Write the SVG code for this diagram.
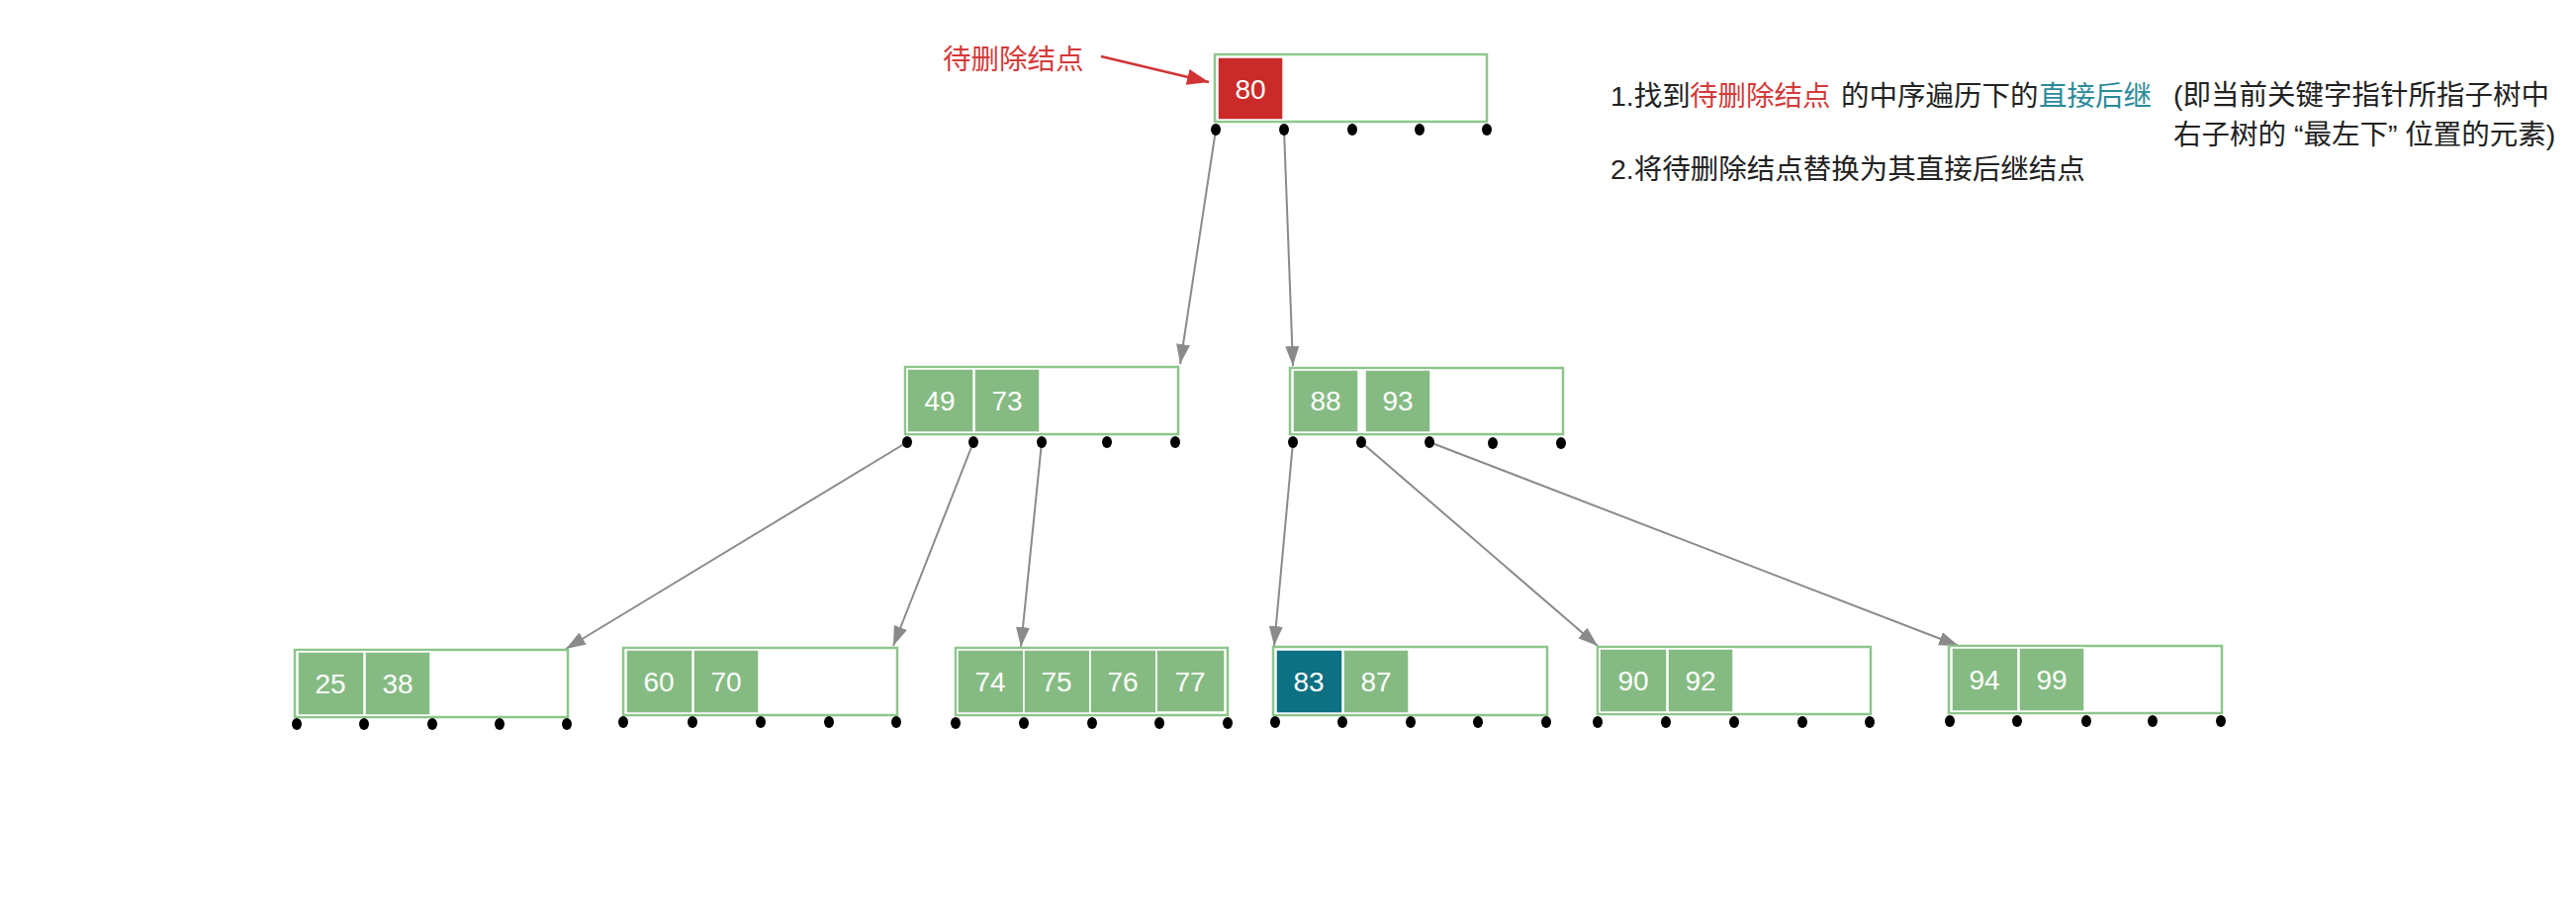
<svg xmlns="http://www.w3.org/2000/svg" width="2604" height="920" viewBox="0 0 2604 920">
<defs>
<style>
.box{fill:#fff;stroke:#8dc68a;stroke-width:2.5}
.c{fill:#85bb82;stroke:#fff;stroke-width:1.5}
.red{fill:#cb2a2a}
.teal{fill:#0e7083}
.num{font-family:"Liberation Sans",Arial,sans-serif;font-size:28px;fill:#fff;text-anchor:middle}
.dot{fill:#000}
.edge{stroke:#8a8a8a;stroke-width:2;fill:none;marker-end:url(#ah)}
.txt{font-family:"Liberation Sans","Noto Sans CJK SC",sans-serif;font-size:28.5px;fill:#222}
</style>
<marker id="ah" viewBox="0 0 20 14" refX="20" refY="7" markerWidth="20" markerHeight="14" markerUnits="userSpaceOnUse" orient="auto"><path d="M0,0 L20,7 L0,14 z" fill="#8a8a8a"/></marker>
<marker id="ahr" viewBox="0 0 22 16" refX="22" refY="8" markerWidth="22" markerHeight="16" markerUnits="userSpaceOnUse" orient="auto"><path d="M0,0 L22,8 L0,16 z" fill="#d03434"/></marker>
</defs>
<rect width="2604" height="920" fill="#fff"/>

<g id="connectors">
<line class="edge" x1="1229" y1="131" x2="1193" y2="368"/>
<line class="edge" x1="1298" y1="131" x2="1307" y2="370"/>
<line class="edge" x1="917" y1="447" x2="572" y2="656"/>
<line class="edge" x1="984" y1="447" x2="903" y2="653"/>
<line class="edge" x1="1053" y1="447" x2="1032" y2="654"/>
<line class="edge" x1="1307" y1="447" x2="1288" y2="653"/>
<line class="edge" x1="1376" y1="447" x2="1615" y2="653"/>
<line class="edge" x1="1445" y1="447" x2="1980" y2="653"/>
<line x1="1113" y1="57" x2="1222" y2="83" stroke="#d03434" stroke-width="2.5" marker-end="url(#ahr)"/>
</g>

<g id="label-delete">
<text x="953" y="70" font-family="'Liberation Sans','Noto Sans CJK SC',sans-serif" font-size="28.5" fill="#d43a3a">待删除结点</text>
</g>

<g id="node-root">
<rect class="box" x="1228" y="55" width="275" height="68"/>
<rect class="red" x="1231" y="58" width="66" height="63" stroke="#fff" stroke-width="1.5"/>
<text class="num" x="1264" y="100">80</text>
<ellipse class="dot" cx="1229" cy="131" rx="5" ry="6"/><ellipse class="dot" cx="1298" cy="131" rx="5" ry="6"/><ellipse class="dot" cx="1367" cy="131" rx="5" ry="6"/><ellipse class="dot" cx="1435" cy="131" rx="5" ry="6"/><ellipse class="dot" cx="1503" cy="131" rx="5" ry="6"/>
</g>

<g id="node-49-73">
<rect class="box" x="915" y="371" width="276" height="68"/>
<rect class="c" x="917" y="373" width="67" height="64"/><text class="num" x="950" y="415">49</text>
<rect class="c" x="985" y="373" width="66" height="64"/><text class="num" x="1018" y="415">73</text>
<ellipse class="dot" cx="917" cy="447" rx="5" ry="6"/><ellipse class="dot" cx="984" cy="447" rx="5" ry="6"/><ellipse class="dot" cx="1053" cy="447" rx="5" ry="6"/><ellipse class="dot" cx="1119" cy="447" rx="5" ry="6"/><ellipse class="dot" cx="1188" cy="447" rx="5" ry="6"/>
</g>

<g id="node-88-93">
<rect class="box" x="1304" y="372" width="276" height="67"/>
<rect class="c" x="1307" y="374" width="66" height="63"/><text class="num" x="1340" y="415">88</text>
<rect class="c" x="1380" y="374" width="66" height="63"/><text class="num" x="1413" y="415">93</text>
<ellipse class="dot" cx="1307" cy="447" rx="5" ry="6"/><ellipse class="dot" cx="1376" cy="447" rx="5" ry="6"/><ellipse class="dot" cx="1445" cy="447" rx="5" ry="6"/><ellipse class="dot" cx="1509" cy="448" rx="5" ry="6"/><ellipse class="dot" cx="1578" cy="448" rx="5" ry="6"/>
</g>

<g id="node-25-38">
<rect class="box" x="298" y="657" width="276" height="68"/>
<rect class="c" x="301" y="659" width="67" height="64"/><text class="num" x="334" y="701">25</text>
<rect class="c" x="369" y="659" width="66" height="64"/><text class="num" x="402" y="701">38</text>
<ellipse class="dot" cx="300" cy="732" rx="5" ry="6"/><ellipse class="dot" cx="368" cy="732" rx="5" ry="6"/><ellipse class="dot" cx="437" cy="732" rx="5" ry="6"/><ellipse class="dot" cx="505" cy="732" rx="5" ry="6"/><ellipse class="dot" cx="573" cy="732" rx="5" ry="6"/>
</g>

<g id="node-60-70">
<rect class="box" x="630" y="655" width="277" height="68"/>
<rect class="c" x="633" y="657" width="67" height="64"/><text class="num" x="666" y="699">60</text>
<rect class="c" x="701" y="657" width="66" height="64"/><text class="num" x="734" y="699">70</text>
<ellipse class="dot" cx="630" cy="730" rx="5" ry="6"/><ellipse class="dot" cx="700" cy="730" rx="5" ry="6"/><ellipse class="dot" cx="769" cy="730" rx="5" ry="6"/><ellipse class="dot" cx="838" cy="730" rx="5" ry="6"/><ellipse class="dot" cx="906" cy="730" rx="5" ry="6"/>
</g>

<g id="node-74-77">
<rect class="box" x="966" y="655" width="275" height="68"/>
<rect class="c" x="968" y="657" width="67" height="64"/><text class="num" x="1001" y="699">74</text>
<rect class="c" x="1035" y="657" width="67" height="64"/><text class="num" x="1068" y="699">75</text>
<rect class="c" x="1102" y="657" width="67" height="64"/><text class="num" x="1135" y="699">76</text>
<rect class="c" x="1169" y="657" width="69" height="63"/><text class="num" x="1203" y="699">77</text>
<ellipse class="dot" cx="966" cy="731" rx="5" ry="6"/><ellipse class="dot" cx="1035" cy="731" rx="5" ry="6"/><ellipse class="dot" cx="1104" cy="731" rx="5" ry="6"/><ellipse class="dot" cx="1172" cy="731" rx="5" ry="6"/><ellipse class="dot" cx="1241" cy="731" rx="5" ry="6"/>
</g>

<g id="node-83-87">
<rect class="box" x="1287" y="654" width="277" height="69"/>
<rect class="teal" x="1290" y="657" width="67" height="64" stroke="#fff" stroke-width="1.5"/><text class="num" x="1323" y="699">83</text>
<rect class="c" x="1358" y="657" width="66" height="64"/><text class="num" x="1391" y="699">87</text>
<ellipse class="dot" cx="1289" cy="730" rx="5" ry="6"/><ellipse class="dot" cx="1357" cy="730" rx="5" ry="6"/><ellipse class="dot" cx="1426" cy="730" rx="5" ry="6"/><ellipse class="dot" cx="1494" cy="730" rx="5" ry="6"/><ellipse class="dot" cx="1563" cy="730" rx="5" ry="6"/>
</g>

<g id="node-90-92">
<rect class="box" x="1615" y="654" width="276" height="68"/>
<rect class="c" x="1617" y="656" width="68" height="64"/><text class="num" x="1651" y="698">90</text>
<rect class="c" x="1686" y="656" width="66" height="64"/><text class="num" x="1719" y="698">92</text>
<ellipse class="dot" cx="1615" cy="730" rx="5" ry="6"/><ellipse class="dot" cx="1684" cy="730" rx="5" ry="6"/><ellipse class="dot" cx="1753" cy="730" rx="5" ry="6"/><ellipse class="dot" cx="1822" cy="730" rx="5" ry="6"/><ellipse class="dot" cx="1890" cy="730" rx="5" ry="6"/>
</g>

<g id="node-94-99">
<rect class="box" x="1970" y="653" width="276" height="68"/>
<rect class="c" x="1973" y="655" width="67" height="64"/><text class="num" x="2006" y="697">94</text>
<rect class="c" x="2041" y="655" width="66" height="64"/><text class="num" x="2074" y="697">99</text>
<ellipse class="dot" cx="1971" cy="729" rx="5" ry="6"/><ellipse class="dot" cx="2039" cy="729" rx="5" ry="6"/><ellipse class="dot" cx="2109" cy="729" rx="5" ry="6"/><ellipse class="dot" cx="2176" cy="729" rx="5" ry="6"/><ellipse class="dot" cx="2245" cy="729" rx="5" ry="6"/>
</g>

<g id="notes">
<text class="txt" y="107"><tspan x="1628">1.找到</tspan><tspan x="1708" fill="#d43a3a">待删除结点</tspan><tspan x="1861">的中序遍历下的</tspan><tspan x="2061" fill="#2a8a9a">直接后继</tspan></text>
<text class="txt" x="2197" y="106">(即当前关键字指针所指子树中</text>
<text class="txt" x="2197" y="146">右子树的 “最左下” 位置的元素)</text>
<text class="txt" x="1628" y="181">2.将待删除结点替换为其直接后继结点</text>
</g>
</svg>
